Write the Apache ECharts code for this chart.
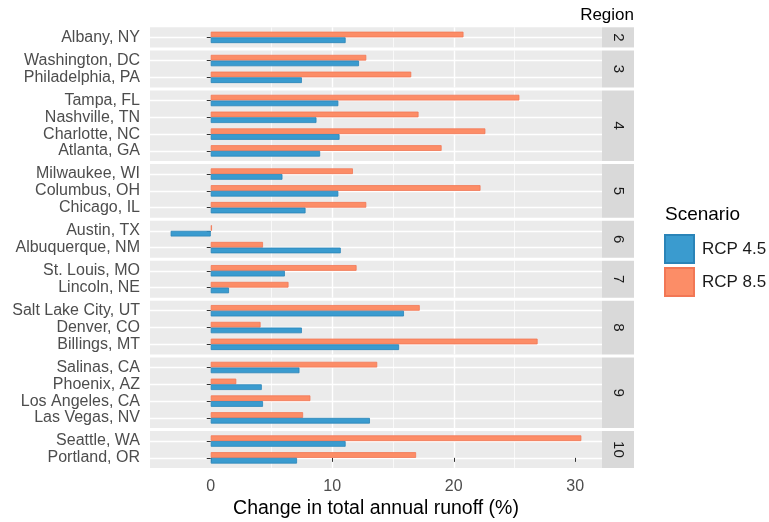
<!DOCTYPE html>
<html>
<head>
<meta charset="utf-8">
<script src="https://cdn.jsdelivr.net/npm/echarts@6.0.0/dist/echarts.min.js"></script>
<style>
  html, body { margin: 0; padding: 0; background: #fff; }
  #main { width: 769px; height: 522px; }
</style>
</head>
<body>
<div id="main"></div>
<script>
// data, top to bottom as in the picture
var cities = ['Albany, NY', 'Washington, DC', 'Philadelphia, PA', 'Tampa, FL', 'Nashville, TN',
  'Charlotte, NC', 'Atlanta, GA', 'Milwaukee, WI', 'Columbus, OH', 'Chicago, IL', 'Austin, TX',
  'Albuquerque, NM', 'St. Louis, MO', 'Lincoln, NE', 'Salt Lake City, UT', 'Denver, CO',
  'Billings, MT', 'Salinas, CA', 'Phoenix, AZ', 'Los Angeles, CA', 'Las Vegas, NV',
  'Seattle, WA', 'Portland, OR'];
var cityRegion = ['2', '3', '3', '4', '4', '4', '4', '5', '5', '5', '6', '6', '7', '7',
  '8', '8', '8', '9', '9', '9', '9', '10', '10'];
var rcp45 = [11.1, 12.2, 7.5, 10.5, 8.7, 10.6, 9.0, 5.9, 10.5, 7.8, -3.3, 10.7, 6.1, 1.5,
  15.9, 7.5, 15.5, 7.3, 4.2, 4.3, 13.1, 11.1, 7.1];
var rcp85 = [20.8, 12.8, 16.5, 25.4, 17.1, 22.6, 19.0, 11.7, 22.2, 12.8, 0.1, 4.3, 12.0, 6.4,
  17.2, 4.1, 26.9, 13.7, 2.1, 8.2, 7.6, 30.5, 16.9];
var regions = ['2', '3', '4', '5', '6', '7', '8', '9', '10'];
var xTicks = [0, 10, 20, 30];
var scenarios = ['RCP 4.5', 'RCP 8.5'];

var FONT = 'Liberation Sans, Arial, sans-serif';
var BLUE = '#3A9BCF', ORANGE = '#FC8D67';
var X_MIN = -5, X_MAX = 32.2;

var u = 16.8, gap = 3, top0 = 27.3, left = 150, width = 452;

var grids = [], xAxes = [], yAxes = [], series = [], graphics = [];
var y = top0;

regions.forEach(function (reg, i) {
  // cities of this region, bottom first (category axis runs upward)
  var idx = [];
  cityRegion.forEach(function (r, k) { if (r === reg) idx.push(k); });
  idx.reverse();
  var n = idx.length;
  var h = (n + 0.2) * u;
  var last = i === regions.length - 1;

  // panel background grid (carries the grid lines)
  grids.push({ left: left, top: y, width: width, height: h, show: true,
    backgroundColor: '#EBEBEB', borderWidth: 0, z: 0, outerBoundsMode: 'none' });
  // bars grid
  grids.push({ left: left, top: y + 0.1 * u, width: width, height: n * u, show: false,
    z: 0, outerBoundsMode: 'none' });

  xAxes.push({
    type: 'value', gridIndex: 2 * i, min: X_MIN, max: X_MAX, minInterval: 10, maxInterval: 10, z: 1,
    axisLine: { show: false },
    axisTick: { show: last, customValues: xTicks, length: 4, lineStyle: { color: '#333', width: 1 } },
    axisLabel: { show: last, customValues: xTicks, fontSize: 16, color: '#4D4D4D', margin: 11,
      fontFamily: FONT },
    splitLine: { show: true, showMinLine: false, showMaxLine: false,
      lineStyle: { color: '#FFFFFF', width: 1.4 } },
    minorTick: { show: false, splitNumber: 2 },
    minorSplitLine: { show: true, lineStyle: { color: '#FFFFFF', width: 0.7 } },
    name: last ? 'Change in total annual runoff (%)' : '',
    nameLocation: 'middle', nameGap: 31,
    nameTextStyle: { fontSize: 19.5, color: '#000', fontFamily: FONT }
  });
  xAxes.push({ type: 'value', gridIndex: 2 * i + 1, min: X_MIN, max: X_MAX, show: false });

  // value axis in the panel grid, only for the horizontal lines at each city
  yAxes.push({
    type: 'value', gridIndex: 2 * i, min: -0.6, max: n - 0.4, minInterval: 1, maxInterval: 1, z: 1,
    axisLine: { show: false }, axisTick: { show: false }, axisLabel: { show: false },
    splitLine: { show: true, showMinLine: false, showMaxLine: false,
      lineStyle: { color: '#FFFFFF', width: 1.4 } }
  });
  yAxes.push({
    type: 'category', gridIndex: 2 * i + 1, z: 1,
    data: idx.map(function (k) { return cities[k]; }),
    axisLine: { show: false },
    axisTick: { show: true, alignWithLabel: true, length: 4, lineStyle: { color: '#333', width: 1 } },
    axisLabel: { interval: 0, fontSize: 16, color: '#4D4D4D', margin: 10, fontFamily: FONT },
    splitLine: { show: false }
  });

  // RCP 8.5 first so it sits above RCP 4.5 in each pair
  series.push({
    name: scenarios[1], type: 'bar', xAxisIndex: 2 * i + 1, yAxisIndex: 2 * i + 1,
    data: idx.map(function (k) { return rcp85[k]; }),
    barWidth: 5.7, barGap: '0%', z: 2,
    itemStyle: { color: ORANGE, borderColor: '#F27755', borderWidth: 0.8 }
  });
  series.push({
    name: scenarios[0], type: 'bar', xAxisIndex: 2 * i + 1, yAxisIndex: 2 * i + 1,
    data: idx.map(function (k) { return rcp45[k]; }),
    barWidth: 5.7, barGap: '0%', z: 2,
    itemStyle: { color: BLUE, borderColor: '#2A84B8', borderWidth: 0.8 }
  });

  // facet strip
  graphics.push({ type: 'rect', shape: { x: left + width, y: y, width: 32, height: h },
    style: { fill: '#D9D9D9' }, silent: true });
  graphics.push({ type: 'text', x: left + width + 16, y: y + h / 2, rotation: -Math.PI / 2,
    style: { text: reg, fill: '#1A1A1A', font: '15px ' + FONT, align: 'center', verticalAlign: 'middle' },
    silent: true });

  y += h + gap;
});

graphics.push({ type: 'text', x: 634, y: 15,
  style: { text: 'Region', fill: '#000', font: '17px ' + FONT, align: 'right', verticalAlign: 'middle' } });
graphics.push({ type: 'text', x: 665, y: 215,
  style: { text: 'Scenario', fill: '#000', font: '19px ' + FONT, align: 'left', verticalAlign: 'middle' } });

var myChart = echarts.init(document.getElementById('main'));
var option = {
  animation: false,
  backgroundColor: '#FFFFFF',
  textStyle: { fontFamily: FONT },
  grid: grids,
  xAxis: xAxes,
  yAxis: yAxes,
  legend: {
    data: scenarios, orient: 'vertical', left: 664, top: 234, padding: 0,
    icon: 'rect', itemWidth: 29, itemHeight: 28, itemGap: 3,
    textStyle: { fontSize: 17, color: '#1A1A1A', fontFamily: FONT, padding: [0, 0, 0, 3] },
    selectedMode: false
  },
  graphic: graphics,
  series: series
};
myChart.setOption(option);
</script>
</body>
</html>
